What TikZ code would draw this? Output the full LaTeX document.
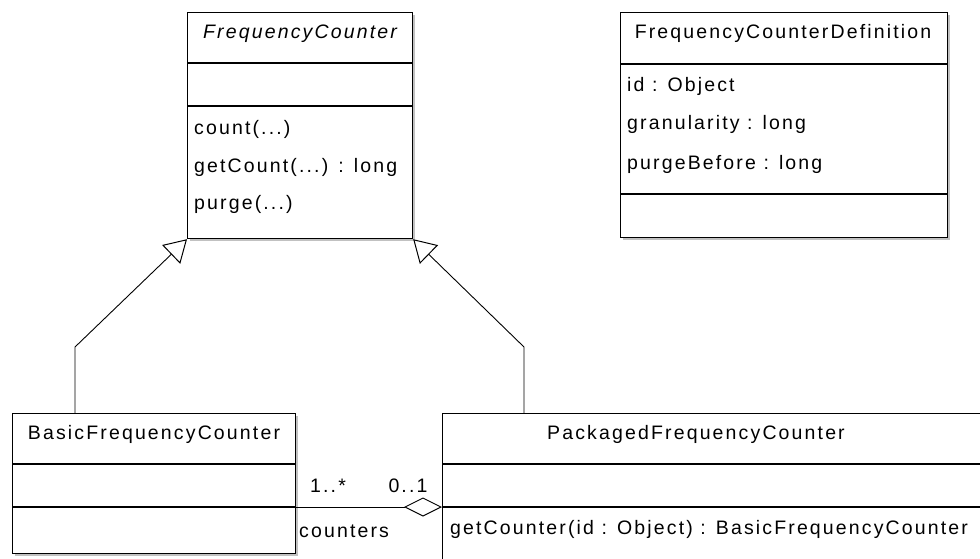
\documentclass[tikz,border=0pt]{standalone}
\usepackage{fontspec}
\setmainfont{Liberation Sans}[LetterSpace=11]
\usetikzlibrary{arrows.meta,shadows}
\tikzset{
  box/.style={draw=black, fill=white, line width=1.2pt, inner sep=0pt,
    anchor=north west, drop shadow={shadow xshift=2pt, shadow yshift=-2pt, fill=black!40, opacity=0.6}},
  sepline/.style={draw=black, line width=1.2pt},
  lbl/.style={inner sep=0pt, anchor=base west, font=\fontsize{19.5}{22}\selectfont},
  ttl/.style={inner sep=0pt, anchor=base, font=\fontsize{19.5}{22}\selectfont},
  gen/.style={draw=black, line width=0.9pt, -{Triangle[open, length=22pt, width=26pt, line width=1pt, fill=white]}},
  agg/.style={draw=black, line width=0.9pt, -{Diamond[open, length=38pt, width=19pt, line width=1pt, fill=white]}},
}
\begin{document}
\begin{tikzpicture}[x=1pt, y=-1pt]
\useasboundingbox (0,0) rectangle (980,559);
\clip (0,0) rectangle (980,559);
\fill[white] (0,0) rectangle (980,559);

% class boxes
\node[box, minimum width=225pt, minimum height=226pt] (fc) at (187,12) {};
\node[box, minimum width=327pt, minimum height=225pt] (fcd) at (620,12) {};
\node[box, minimum width=283pt, minimum height=140pt] (bfc) at (12,413) {};
\node[box, minimum width=600pt, minimum height=200pt] (pfc) at (442,413) {};

% compartment separators
\draw[sepline] (fc.west |- 0,63) -- (fc.east |- 0,63);
\draw[sepline] (fc.west |- 0,106) -- (fc.east |- 0,106);
\draw[sepline] (fcd.west |- 0,64) -- (fcd.east |- 0,64);
\draw[sepline] (fcd.west |- 0,194) -- (fcd.east |- 0,194);
\draw[sepline] (bfc.west |- 0,464) -- (bfc.east |- 0,464);
\draw[sepline] (bfc.west |- 0,507) -- (bfc.east |- 0,507);
\draw[sepline] (pfc.west |- 0,464) -- (pfc.east |- 0,464);
\draw[sepline] (pfc.west |- 0,507) -- (pfc.east |- 0,507);

% FrequencyCounter
\node[ttl] (fcTitle) at (300,39) {\itshape FrequencyCounter};
\node[lbl] (fcM1) at (194,135) {count(...)};
\node[lbl] (fcM2) at (194,172) {getCount(...) : long};
\node[lbl] (fcM3) at (194,209) {purge(...)};

% FrequencyCounterDefinition
\node[ttl] (fcdTitle) at (783,39) {FrequencyCounterDefinition};
\node[lbl] (fcdA1) at (627,92) {id : Object};
\node[lbl] (fcdA2) at (627,130) {granularity : long};
\node[lbl] (fcdA3) at (627,169) {purgeBefore : long};

% BasicFrequencyCounter
\node[ttl] (bfcTitle) at (154,439) {BasicFrequencyCounter};

% PackagedFrequencyCounter
\node[ttl] (pfcTitle) at (696,439) {PackagedFrequencyCounter};
\node[lbl] (pfcM1) at (450,534) {getCounter(id : Object) : BasicFrequencyCounter};

% generalizations
\coordinate (bendL) at (75,347);
\coordinate (bendR) at (524,347);
\draw[gen] (bfc.north -| bendL) -- (bendL) -- (fc.south west);
\draw[gen] (pfc.north -| bendR) -- (bendR) -- (fc.south east);

% aggregation
\coordinate (aggY) at (0,507);
\draw[agg] (bfc.east |- aggY) -- (pfc.west |- aggY);
\node[ttl] (mulA) at (328,492) {1..*};
\node[ttl] (mulB) at (408,492) {0..1};
\node[lbl] (role) at (299,537) {counters};
\end{tikzpicture}
\end{document}
